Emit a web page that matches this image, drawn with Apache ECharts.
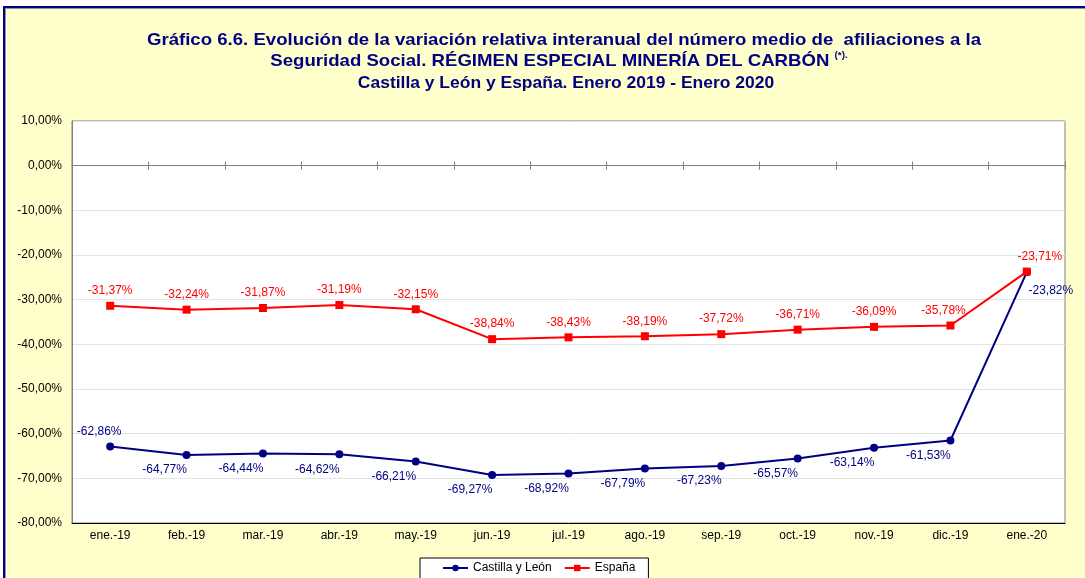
<!DOCTYPE html>
<html>
<head>
<meta charset="utf-8">
<script src="https://cdn.jsdelivr.net/npm/echarts@6/dist/echarts.min.js"></script>
<style>
  html, body { margin: 0; padding: 0; background: #ffffff; }
  #frame { position: absolute; left: 3px; top: 6px; width: 1100px; height: 600px;
           background: #FFFFCC; border-left: 2px solid #000080; border-top: 2px solid #000080;
           box-shadow: 1px 1px 0 #9090b0 inset; }
  #chart { position: absolute; left: 0; top: 0; width: 1085px; height: 578px; }
</style>
</head>
<body>
<div id="frame"></div>
<div id="chart"></div>
<script>
const categories = ['ene.-19','feb.-19','mar.-19','abr.-19','may.-19','jun.-19','jul.-19','ago.-19','sep.-19','oct.-19','nov.-19','dic.-19','ene.-20'];
const castillaLeon = [-62.86,-64.77,-64.44,-64.62,-66.21,-69.27,-68.92,-67.79,-67.23,-65.57,-63.14,-61.53,-23.82];
const espana = [-31.37,-32.24,-31.87,-31.19,-32.15,-38.84,-38.43,-38.19,-37.72,-36.71,-36.09,-35.78,-23.71];
const yTicks = { min: -80, max: 10, interval: 10 };
const titleLines = [
  'Gráfico 6.6. Evolución de la variación relativa interanual del número medio de  afiliaciones a la',
  'Seguridad Social. RÉGIMEN ESPECIAL MINERÍA DEL CARBÓN ',
  'Castilla y León y España. Enero 2019 - Enero 2020'
];
const titleNote = '(*).';

const fmt = v => v.toFixed(2).replace('.', ',') + '%';
const FONT = 'Liberation Sans, Arial, sans-serif';
const NAVY = '#000080', RED = '#FF0000';

const cylData = castillaLeon.map((v, i) => {
  let label;
  if (i === 0) label = { position: 'top', offset: [-11, 0] };
  else if (i === castillaLeon.length - 1) label = { position: 'bottom', offset: [24, 4] };
  else label = { position: 'bottom', offset: [-22, 0] };
  return { value: v, label };
});
const espData = espana.map((v, i) => {
  let label = { position: 'top' };
  if (i === espana.length - 1) label = { position: 'top', offset: [13, 0] };
  if (i === espana.length - 2) label = { position: 'top', offset: [-7, 0] };
  return { value: v, label };
});

const chart = echarts.init(document.getElementById('chart'), null, { renderer: 'canvas' });
const tickAxisBase = {
  type: 'category', data: categories, gridIndex: 0,
  axisLine: { onZero: true, onZeroAxisIndex: 0, lineStyle: { color: '#808080', width: 1 } },
  axisLabel: { show: false }, splitLine: { show: false }
};
chart.setOption({
  animation: false,
  textStyle: { fontFamily: FONT },
  graphic: [
    { type: 'text', x: 564, y: 40, scaleX: 1.094, style: { text: titleLines[0], x: 0, y: 0, align: 'center', verticalAlign: 'middle', font: 'bold 17px ' + FONT, fill: NAVY } },
    { type: 'text', x: 559, y: 61, scaleX: 1.094, style: { text: '{m|' + titleLines[1] + '}{s|' + titleNote + '}', x: 0, y: 0, align: 'center', verticalAlign: 'middle', fill: NAVY,
        rich: { m: { fontSize: 17, fontWeight: 'bold', fontFamily: FONT, color: NAVY, lineHeight: 20 },
                s: { fontSize: 9, fontWeight: 'bold', fontFamily: FONT, color: NAVY, verticalAlign: 'top', lineHeight: 20, padding: [0,0,8,0] } } } },
    { type: 'text', x: 566, y: 83, scaleX: 1.027, style: { text: titleLines[2], x: 0, y: 0, align: 'center', verticalAlign: 'middle', font: 'bold 17px ' + FONT, fill: NAVY } }
  ],
  grid: { left: 72, top: 121, right: 20, bottom: 55, show: true, backgroundColor: '#ffffff', borderColor: '#808080', borderWidth: 1 },
  legend: {
    left: 420, top: 558,
    backgroundColor: '#ffffff', borderColor: '#000000', borderWidth: 1,
    padding: [4, 13, 6, 22], itemGap: 12, itemWidth: 25, itemHeight: 8,
    textStyle: { fontSize: 12, color: '#000', fontFamily: FONT },
    data: ['Castilla y León', 'España']
  },
  xAxis: [
    { type: 'category', data: categories, position: 'bottom',
      axisLine: { onZero: false, lineStyle: { color: '#000000', width: 1 } },
      axisTick: { show: false },
      axisLabel: { fontSize: 12, color: '#000', margin: 7, fontFamily: FONT, interval: 0 },
      splitLine: { show: false } },
    Object.assign({}, tickAxisBase, { position: 'bottom', axisTick: { show: true, inside: true, length: 4, lineStyle: { color: '#808080' } } }),
    Object.assign({}, tickAxisBase, { position: 'top', axisTick: { show: true, inside: true, length: 4, lineStyle: { color: '#808080' } } })
  ],
  yAxis: {
    type: 'value', min: yTicks.min, max: yTicks.max, interval: yTicks.interval,
    axisLine: { show: true, lineStyle: { color: '#808080' } },
    axisTick: { show: false },
    axisLabel: { fontSize: 12, color: '#000', margin: 10, fontFamily: FONT, formatter: v => fmt(v) },
    splitLine: { show: true, lineStyle: { color: '#e3e3e3', width: 1 } }
  },
  series: [
    { name: 'Castilla y León', type: 'line', xAxisIndex: 0, data: cylData,
      symbol: 'circle', symbolSize: 8,
      lineStyle: { color: NAVY, width: 2 }, itemStyle: { color: NAVY },
      label: { show: true, color: NAVY, fontSize: 12, fontFamily: FONT, formatter: p => fmt(p.value) } },
    { name: 'España', type: 'line', xAxisIndex: 0, data: espData,
      symbol: 'rect', symbolSize: 8,
      lineStyle: { color: RED, width: 2 }, itemStyle: { color: RED },
      label: { show: true, color: RED, fontSize: 12, fontFamily: FONT, formatter: p => fmt(p.value) } }
  ]
});
</script>
</body>
</html>
